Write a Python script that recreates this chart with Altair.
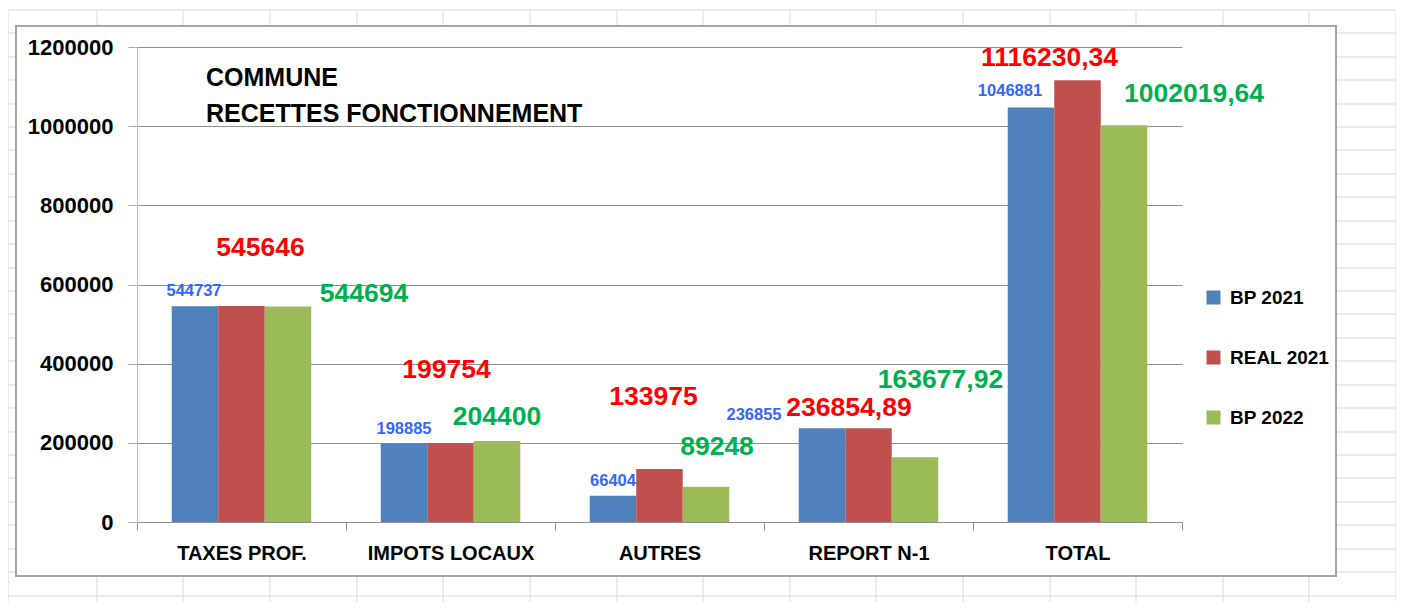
import altair as alt
import pandas as pd

# ---------------- data ----------------
CATEGORIES = ["TAXES PROF.", "IMPOTS LOCAUX", "AUTRES", "REPORT N-1", "TOTAL"]
SERIES = ["BP 2021", "REAL 2021", "BP 2022"]
BP_2021 = [544737, 198885, 66404, 236855, 1046881]
REAL_2021 = [545646, 199754, 133975, 236854.89, 1116230.34]
BP_2022 = [544694, 204400, 89248, 163677.92, 1002019.64]
Y_TICKS = [0, 200000, 400000, 600000, 800000, 1000000, 1200000]
TITLE_LINES = ["COMMUNE", "RECETTES FONCTIONNEMENT"]

# ---------------- styles ----------------
BAR_COLORS = ["#4F81BD", "#C0504D", "#9BBB59"]
LABEL_COLORS = {"BP 2021": "#3366FF", "REAL 2021": "#FF0000", "BP 2022": "#00B050"}
LABEL_SIZES = {"BP 2021": 16.5, "REAL 2021": 26.5, "BP 2022": 26.5}
# manual (Excel-like) label placement offsets in pixels, per series, per category
LABEL_OFFSETS = {
    "BP 2021": [(-1, -15), (0, -14), (0, -14.5), (-68, -13), (-21, -16.5)],
    "REAL 2021": [(19, -58), (-4, -73), (-6, -71.5), (-19.5, -20.5), (-28, -22.5)],
    "BP 2022": [(76, -12), (0, -24), (11, -39.5), (25.5, -77), (70, -31)],
}
FONT = "Liberation Sans, Arial, sans-serif"

PLOT_W, PLOT_H = 1045, 475
ORIGIN_X, ORIGIN_Y = 137, 47  # page position of plot origin

# decorative spreadsheet grid (page pixels) and chart frame
SHEET_COLS = [8, 97, 183, 270, 357, 443, 530, 617, 703, 790, 876, 963, 1050, 1136, 1223, 1309, 1396]
SHEET_ROWS = [10, 33, 57, 80, 104, 127, 150, 174, 197, 221, 244, 268, 291, 314, 338, 361,
              385, 408, 432, 455, 478, 502, 525, 549, 572, 596]
FRAME = (16, 26, 1336, 576)
PAGE_W, PAGE_H = 1404, 613


def fmt(v):
    if float(v).is_integer():
        return str(int(v))
    return f"{v:.2f}".replace(".", ",")


rows = []
for s, vals in zip(SERIES, [BP_2021, REAL_2021, BP_2022]):
    for c, v in zip(CATEGORIES, vals):
        rows.append({"cat": c, "series": s, "value": v, "label": fmt(v)})
df = pd.DataFrame(rows)

# spreadsheet grid segments (only outside the chart frame)
L, T, R, B = FRAME
segs = []
for x in SHEET_COLS:
    if L < x < R:
        segs.append((x, 10, x, T))
        segs.append((x, B, x, PAGE_H))
    else:
        segs.append((x, 10, x, PAGE_H))
for y in SHEET_ROWS:
    if T < y < B:
        segs.append((8, y, L, y))
        segs.append((R, y, PAGE_W, y))
    else:
        segs.append((8, y, PAGE_W, y))
grid_df = pd.DataFrame(
    [{"x": a - ORIGIN_X, "y": b - ORIGIN_Y, "x2": c - ORIGIN_X, "y2": d - ORIGIN_Y} for a, b, c, d in segs]
)

x_enc = alt.X(
    "cat:N",
    scale=alt.Scale(domain=CATEGORIES, paddingInner=0, paddingOuter=0),
    axis=alt.Axis(
        title=None, labelAngle=0, labelFont=FONT, labelFontSize=20, labelFontWeight="bold",
        labelColor="black", labelPadding=13, tickBand="extent", tickSize=8,
        tickColor="#8F8F8F", domainColor="#8F8F8F", labelLimit=300,
    ),
)
xoff_enc = alt.XOffset("series:N", scale=alt.Scale(domain=SERIES, paddingInner=0, paddingOuter=0.747))
y_enc = alt.Y(
    "value:Q",
    scale=alt.Scale(domain=[0, 1200000], nice=False, zero=True),
    axis=alt.Axis(
        title=None, values=Y_TICKS, format="d", labelFont=FONT, labelFontSize=22,
        labelFontWeight="bold", labelColor="black", labelPadding=15, tickSize=9,
        tickColor="#A6A6A6", domainColor="#BFBFBF", gridColor="#8F8F8F", grid=True,
    ),
)

sheet = alt.Chart(grid_df).mark_rule(color="#D9D9D9", strokeWidth=1).encode(
    x=alt.X("x:Q", scale=None, axis=None),
    x2="x2:Q",
    y=alt.Y("y:Q", scale=None, axis=None),
    y2="y2:Q",
)

frame = alt.Chart(pd.DataFrame({"k": [0]})).mark_rect(
    fillOpacity=0, stroke="#A6A6A6", strokeWidth=2
).encode(
    x=alt.value(L - ORIGIN_X), x2=alt.value(R - ORIGIN_X),
    y=alt.value(T - ORIGIN_Y), y2=alt.value(B - ORIGIN_Y),
)

bars = alt.Chart(df).mark_bar().encode(
    x=x_enc,
    xOffset=xoff_enc,
    y=y_enc,
    color=alt.Color(
        "series:N",
        scale=alt.Scale(domain=SERIES, range=BAR_COLORS),
        legend=alt.Legend(
            title=None, orient="none", legendX=1204 - ORIGIN_X, legendY=241,
            direction="vertical", symbolType="square", symbolSize=196,
            symbolStrokeWidth=0, labelFont=FONT, labelFontSize=19,
            labelFontWeight="bold", labelColor="black", rowPadding=40, labelOffset=7,
        ),
    ),
)

label_layers = []
for s in SERIES:
    for i, c in enumerate(CATEGORIES):
        dx, dy = LABEL_OFFSETS[s][i]
        sub = df[(df["series"] == s) & (df["cat"] == c)]
        label_layers.append(
            alt.Chart(sub).mark_text(
                font=FONT, fontWeight="bold", fontSize=LABEL_SIZES[s],
                color=LABEL_COLORS[s], align="center", baseline="middle", dx=dx, dy=dy,
            ).encode(x=alt.X("cat:N"), xOffset=alt.XOffset("series:N"), y=alt.Y("value:Q"), text="label:N")
        )

title_layers = []
for j, line in enumerate(TITLE_LINES):
    title_layers.append(
        alt.Chart(pd.DataFrame({"k": [0]})).mark_text(
            font=FONT, fontWeight="bold", fontSize=25, color="black", align="left", baseline="middle",
        ).encode(x=alt.value(206 - ORIGIN_X), y=alt.value(78 + 36 * j - ORIGIN_Y), text=alt.value(line))
    )

chart = alt.layer(sheet, frame, bars, *label_layers, *title_layers).properties(
    width=PLOT_W,
    height=PLOT_H,
    autosize=alt.AutoSizeParams(type="none"),
    padding={"left": ORIGIN_X - 8, "top": ORIGIN_Y - 8, "right": 214, "bottom": 80},
    background="white",
).configure_view(stroke=None)

chart.save("out.html", embed_options={"renderer": "svg", "actions": False})
